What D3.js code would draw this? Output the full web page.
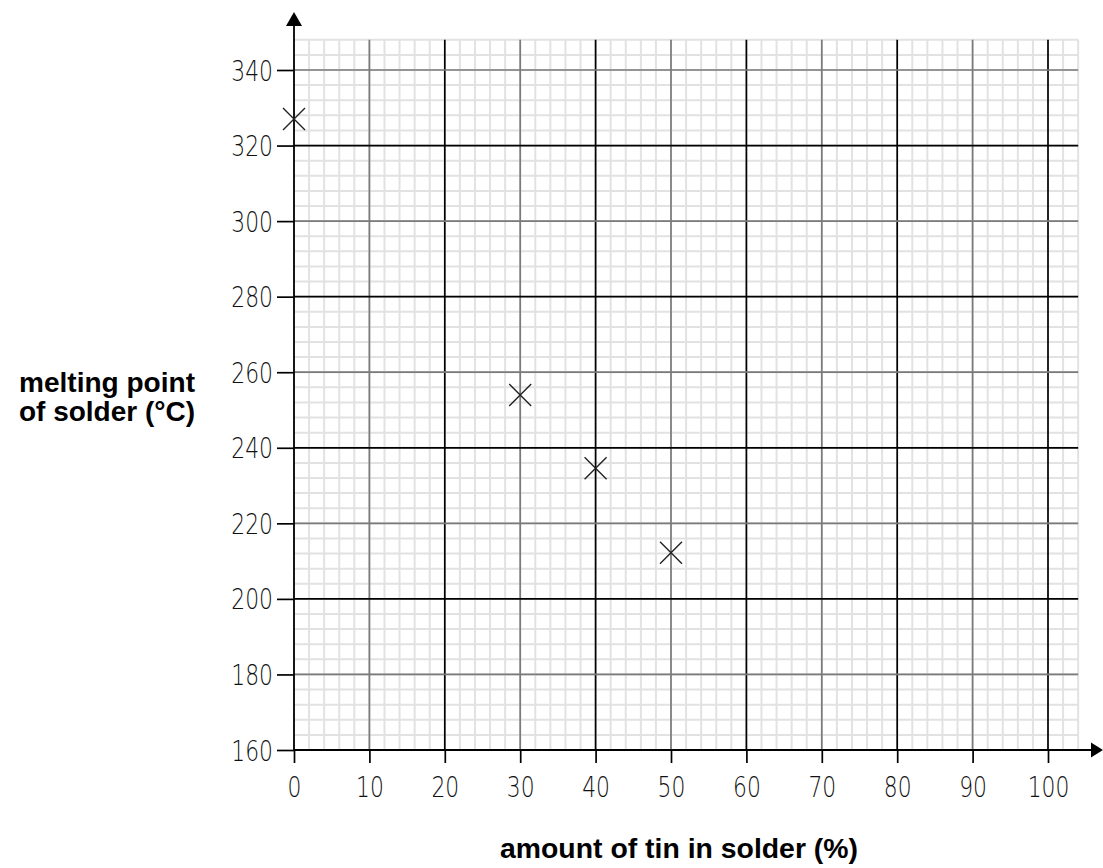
<!DOCTYPE html>
<html><head><meta charset="utf-8">
<script src="https://cdn.jsdelivr.net/npm/d3@7"></script>
<style>
body{margin:0;background:#fff;}
svg{display:block;}
.tick text{font-family:"DejaVu Sans",sans-serif;font-weight:200;font-size:28px;fill:#111;}
.lbl{font-family:"Liberation Sans",Arial,sans-serif;font-weight:bold;font-size:28px;fill:#000;}
</style></head>
<body>
<svg id="chart" width="1103" height="868"></svg>
<script>
// data
const tinPercent = [0, 30, 40, 50];
const meltingPoint = [327, 254, 234.6, 212.2];
const xTicks = [0, 10, 20, 30, 40, 50, 60, 70, 80, 90, 100];
const yTicks = [160, 180, 200, 220, 240, 260, 280, 300, 320, 340];
const xLabel = "amount of tin in solder (%)";
const yLabel = ["melting point", "of solder (°C)"];

const svg = d3.select("#chart");
const x = d3.scaleLinear().domain([0, 100]).range([294, 1048]);
const y = d3.scaleLinear().domain([160, 340]).range([750, 70]);
const xGridMax = 104, yGridMax = 348;

// minor grid
const g = svg.append("g");
g.selectAll("line.mv").data(d3.range(0, xGridMax + 0.01, 2)).join("line")
  .attr("x1", d => x(d)).attr("x2", d => x(d)).attr("y1", y(160)).attr("y2", y(yGridMax))
  .attr("stroke", "#e2e2e2").attr("stroke-width", 2);
g.selectAll("line.mh").data(d3.range(160, yGridMax + 0.01, 4)).join("line")
  .attr("y1", d => y(d)).attr("y2", d => y(d)).attr("x1", x(0)).attr("x2", x(xGridMax))
  .attr("stroke", "#e2e2e2").attr("stroke-width", 2);

// major grid
g.selectAll("line.Mv").data(xTicks.filter(d => d > 0)).join("line")
  .attr("x1", d => x(d)).attr("x2", d => x(d)).attr("y1", y(160)).attr("y2", y(yGridMax))
  .attr("stroke", d => d % 20 === 0 ? "#000" : "#7a7a7a").attr("stroke-width", 1.7);
g.selectAll("line.Mh").data(yTicks.filter(d => d > 160)).join("line")
  .attr("y1", d => y(d)).attr("y2", d => y(d)).attr("x1", x(0)).attr("x2", x(xGridMax))
  .attr("stroke", d => d % 40 === 0 ? "#000" : "#7a7a7a").attr("stroke-width", 1.7);

// axes
const xAxis = svg.append("g").attr("transform", `translate(0,${y(160)})`)
  .call(d3.axisBottom(x).tickValues(xTicks).tickSize(13).tickPadding(14).tickFormat(d3.format("d")));
xAxis.select(".domain").remove();
xAxis.selectAll(".tick line").attr("stroke", "#000").attr("stroke-width", 1.7);
xAxis.selectAll(".tick text").attr("transform", "scale(0.78,1)");

const yAxis = svg.append("g").attr("transform", `translate(${x(0)},0)`)
  .call(d3.axisLeft(y).tickValues(yTicks).tickSize(17).tickPadding(4).tickFormat(d3.format("d")));
yAxis.select(".domain").remove();
yAxis.selectAll(".tick line").attr("stroke", "#000").attr("stroke-width", 1.7);
yAxis.selectAll(".tick text").attr("x", 0).attr("dy", "0.36em")
  .attr("transform", "translate(-21,0) scale(0.78,1)");

// axis lines with arrows
svg.append("line").attr("x1", x(0)).attr("x2", x(0)).attr("y1", y(160)).attr("y2", 20)
  .attr("stroke", "#000").attr("stroke-width", 1.8);
svg.append("path").attr("d", `M${x(0)},12 L${x(0)-8},26 L${x(0)+8},26 Z`).attr("fill", "#000");
svg.append("line").attr("x1", x(0)).attr("x2", 1096).attr("y1", y(160)).attr("y2", y(160))
  .attr("stroke", "#000").attr("stroke-width", 1.8);
svg.append("path").attr("d", `M1103,${y(160)} L1091,${y(160)-7.5} L1091,${y(160)+7.5} Z`).attr("fill", "#000");

// markers
const pts = tinPercent.map((t, i) => ({t, m: meltingPoint[i]}));
const s = 11;
svg.append("g").selectAll("path").data(pts).join("path")
  .attr("d", d => `M${x(d.t)-s},${y(d.m)-s}L${x(d.t)+s},${y(d.m)+s}M${x(d.t)-s},${y(d.m)+s}L${x(d.t)+s},${y(d.m)-s}`)
  .attr("stroke", "#222").attr("stroke-width", 1.4).attr("fill", "none");

// labels
svg.append("text").attr("class", "lbl").attr("x", 19).attr("y", 392)
  .attr("textLength", 176).attr("lengthAdjust", "spacingAndGlyphs").text(yLabel[0]);
svg.append("text").attr("class", "lbl").attr("x", 19).attr("y", 421)
  .attr("textLength", 176).attr("lengthAdjust", "spacingAndGlyphs").text(yLabel[1]);
svg.append("text").attr("class", "lbl").attr("x", 500).attr("y", 858)
  .attr("textLength", 358).attr("lengthAdjust", "spacingAndGlyphs").text(xLabel);
</script>
</body></html>
